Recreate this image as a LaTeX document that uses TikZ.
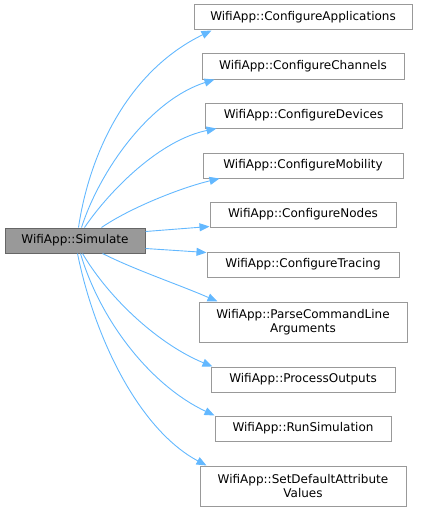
\documentclass[tikz,border=0pt]{standalone}
\usepackage{fontspec}
\usepackage{tikz}
\usetikzlibrary{positioning, calc, arrows.meta}
\newfontfamily\doxfont{DejaVu Sans}
\definecolor{edgeblue}{HTML}{63B8FF}
\definecolor{boxgray}{HTML}{999999}
\definecolor{maingray}{HTML}{666666}

\begin{document}
\begin{tikzpicture}[x=1pt, y=-1pt,
    func/.style={draw=boxgray, fill=white, line width=1pt, font=\doxfont\fontsize{12}{14}\selectfont,
      inner xsep=0pt, inner ysep=0pt, minimum height=25pt, align=center},
    mainfunc/.style={func, draw=maingray, fill=boxgray},
    call/.style={edgeblue, line width=0.9pt, -{Triangle[length=10pt, width=8pt]}}]
    \useasboundingbox (0,0) rectangle (421,511);

    % Caller
    \node[mainfunc, minimum width=140pt] (simulate) at (75,240.5) {WifiApp::Simulate};

    % Callees
    \node[func, minimum width=218pt] (apps) at (303,17.5) {WifiApp::ConfigureApplications};
    \node[func, minimum width=202pt] (channels) at (303,66.5) {WifiApp::ConfigureChannels};
    \node[func, minimum width=197pt] (devices) at (303.5,115.5) {WifiApp::ConfigureDevices};
    \node[func, minimum width=200pt] (mobility) at (303,165.5) {WifiApp::ConfigureMobility};
    \node[func, minimum width=186pt] (nodes) at (303,214.5) {WifiApp::ConfigureNodes};
    \node[func, minimum width=192pt] (tracing) at (303,264.5) {WifiApp::ConfigureTracing};
    \node[func, minimum width=208pt, minimum height=40pt] (parse) at (303,322) {WifiApp::ParseCommandLine\\Arguments};
    \node[func, minimum width=184pt] (outputs) at (303,379.5) {WifiApp::ProcessOutputs};
    \node[func, minimum width=176pt] (runsim) at (303,428.5) {WifiApp::RunSimulation};
    \node[func, minimum width=206pt, minimum height=40pt] (defaults) at (303,486) {WifiApp::SetDefaultAttribute\\Values};

    % Calls upward
    \draw[call] ([xshift=74pt]simulate.north west) .. controls (90,150) and (130,70) .. ([xshift=18pt]apps.south west);
    \draw[call] ([xshift=77pt]simulate.north west) .. controls (100,170) and (150,100) .. ([xshift=13pt]channels.south west);
    \draw[call] ([xshift=80pt]simulate.north west) .. controls (110,190) and (160,140) .. ([xshift=12pt]devices.south west);
    \draw[call] ([xshift=97pt]simulate.north west) .. controls (130,208) and (180,188) .. ([xshift=17pt]mobility.south west);

    % Calls to the right
    \draw[call] ([yshift=-4pt]simulate.north east) -- ([yshift=1pt]nodes.south west);
    \draw[call] ([yshift=5pt]simulate.south east) -- ([yshift=-1pt]tracing.north west);

    % Calls downward
    \draw[call] ([xshift=98pt]simulate.south west) .. controls (135,270) and (180,285) .. ([xshift=19pt]parse.north west);
    \draw[call] ([xshift=78pt]simulate.south west) .. controls (110,300) and (160,345) .. ([xshift=2pt]outputs.north west);
    \draw[call] ([xshift=76pt]simulate.south west) .. controls (100,320) and (150,385) .. (runsim.north west);
    \draw[call] ([xshift=73pt]simulate.south west) .. controls (95,340) and (140,430) .. ([xshift=7pt]defaults.north west);
\end{tikzpicture}
\end{document}
